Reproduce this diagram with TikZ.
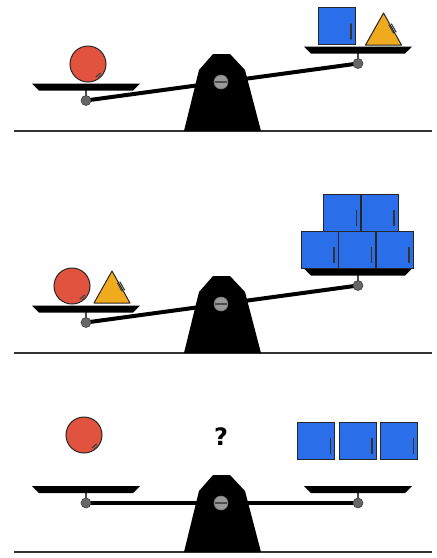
\documentclass[tikz,border=0pt]{standalone}
\usepackage{xcolor}
\usepackage{fontspec}
\usepackage{tikz}

\newfontfamily\askfont{DejaVu Sans}
\definecolor{ballred}{HTML}{E2533F}
\definecolor{blockblue}{HTML}{2B6EEA}
\definecolor{wedgeyellow}{HTML}{F0AA1E}

\begin{document}
\begin{tikzpicture}[x=1pt,y=-1pt,
    ground/.style={line width=2pt,black!80},
    beam/.style={line width=4pt,black},
    stem/.style={line width=2.6pt,black!70},
    knob/.style={fill=black!60,draw=black!75,line width=0.6pt},
    pivot/.style={fill=black!40,draw=black!55,line width=0.6pt},
    slot/.style={line width=1.4pt,black!70},
    glint/.style={line width=1.2pt,black!75,line cap=round},
    ball/.style={fill=ballred,draw=black!85,line width=1pt},
    block/.style={fill=blockblue,draw=black!85,line width=1pt},
    wedge/.style={fill=wedgeyellow,draw=black!85,line width=1pt,line join=round},
    pics/ballpic/.style={code={
      \draw[ball] (0,0) circle (18);
      \draw[glint] (8,13) -- (12.5,9);
      \draw[glint] (10.5,14) -- (14.5,10.5);
    }},
    pics/blockpic/.style={code={
      \draw[block] (-18.5,-18.5) rectangle (18.5,18.5);
      \draw[glint,black!80,line width=1.5pt] (14.5,-2) -- (14.5,13);
    }},
    pics/wedgepic/.style={code={
      \draw[wedge] (-18,0) -- (0,-32) -- (18,0) -- cycle;
      \draw[glint] (5.5,-20) -- (10,-12);
      \draw[glint] (8,-21) -- (12.5,-13);
    }}]
  \useasboundingbox (0,0) rectangle (437,558);

  % three seesaws
  \foreach \py/\dy [count=\i] in {82/18.5,304/18.5,503/0}{
    \draw[ground] (14,\py+49) -- (432,\py+49);
    \fill (184,\py+49) -- (199,\py-12) -- (213,\py-28) -- (230,\py-28)
      -- (245,\py-12) -- (261,\py+49) -- cycle;
    \coordinate (L\i) at (86,\py+\dy);
    \coordinate (R\i) at (358,\py-\dy);
    \draw[beam] (L\i) -- (R\i);
    \foreach \e in {L\i,R\i}{
      \draw[stem] ([shift={(0,-11)}]\e) -- (\e);
      \fill ([shift={(-54,-17)}]\e) -- ([shift={(54,-17)}]\e)
        -- ([shift={(47,-10)}]\e) -- ([shift={(-47,-10)}]\e) -- cycle;
      \draw[knob] (\e) circle (5);
    }
    \draw[pivot] (221,\py) circle (7);
    \draw[slot] (215,\py) -- (227,\py);
  }

  % top
  \pic at (88,64) {ballpic};
  \pic at (336.5,26) {blockpic};
  \pic at (383.5,45) {wedgepic};

  % middle
  \pic at (72,286) {ballpic};
  \pic at (112,303) {wedgepic};
  \foreach \bx in {319.5,357,394.5}
    \pic at (\bx,249.5) {blockpic};
  \foreach \bx in {342,379.5}
    \pic at (\bx,212.5) {blockpic};

  % bottom
  \pic at (84,435) {ballpic};
  \node[font=\askfont\bfseries\fontsize{24}{24}\selectfont] (ask) at (221,437) {?};
  \foreach \bx in {316,357.5,399}
    \pic at (\bx,440.5) {blockpic};
\end{tikzpicture}
\end{document}
